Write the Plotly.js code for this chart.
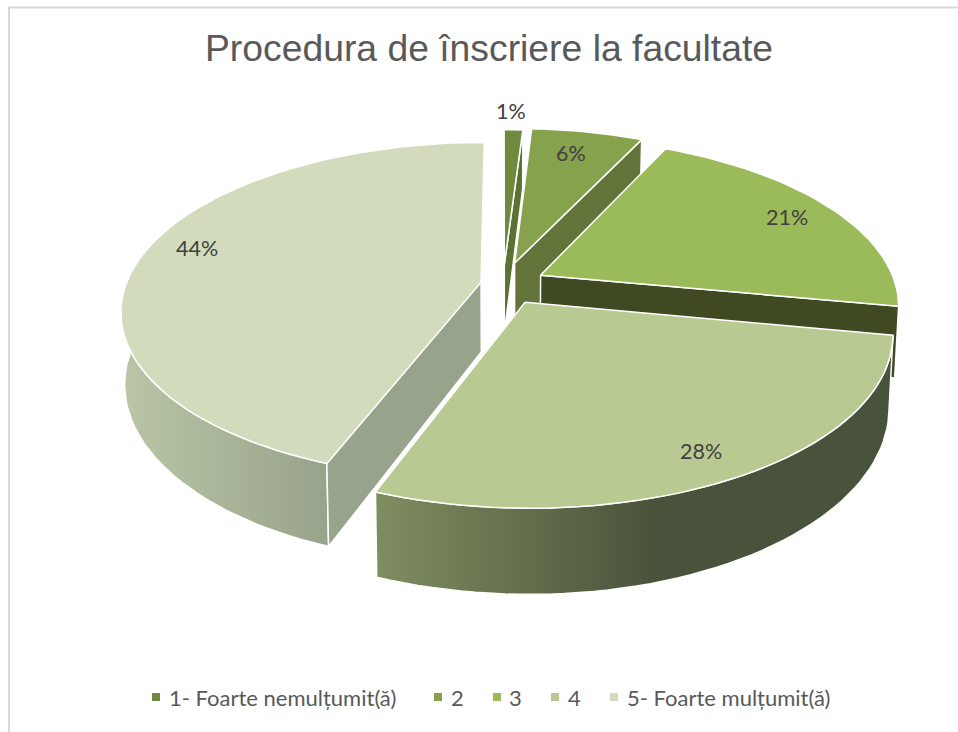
<!DOCTYPE html>
<html><head><meta charset="utf-8">
<script src="https://cdn.plot.ly/plotly-3.0.1.min.js"></script>
<style>html,body{margin:0;padding:0;background:#fff}#c{width:958px;height:732px}</style></head>
<body><div id="c"></div>
<script>
const categories = ["1- Foarte nemulțumit(ă)", "2", "3", "4", "5- Foarte mulțumit(ă)"];
const values = [1, 6, 21, 27.8, 44.2];
const labels = ["1%", "6%", "21%", "28%", "44%"];
const faceColors = ["#6f8a3e", "#87a24c", "#9bba5a", "#b8ca91", "#d2dcbc"];
const sideColors = ["#5b7232", "#62743a", "#3f4922", "#7f8c5f", "#98a38b"];
const frontLeft = ["#3f4922", "#3f4922", "#3f4922", "#808d60", "#bac6a6"];
const frontRight = ["#3f4922", "#3f4922", "#3f4922", "#49523a", "#98a38b"];
const frontStop = [1, 1, 1, 0.55, 1];
const pulls = [0.12, 0.135, 0.12, 0.125, 0.063];
const labelX = [511, 571, 787, 701, 197];
const labelY = [111, 153, 217, 451, 248];
const legendSwatchX = [156, 438, 497, 555, 614];
const legendTextX = [169, 451, 509, 568, 627];
const legendY = 697;
const drawOrder = [0, 1, 2, 4, 3];

const cx = 503, cy = 284, rx = 355, ry = 164, k = 0.17, depth = 70, shrink = 0.99;
const rad = a => a * Math.PI / 180;
function project(X, Y, bottom) {
  const s = 1 / (1 - k * Y);
  const px = X * rx * s, py = Y * ry * s;
  return bottom ? [cx + px * shrink, cy + py + depth * s] : [cx + px, cy + py];
}
function rim(a, off, bottom) { return project(Math.sin(rad(a)) + off[0], -Math.cos(rad(a)) + off[1], bottom); }
function arc(a0, a1, off, bottom) {
  const n = Math.max(2, Math.ceil(Math.abs(a1 - a0) / 2)), out = [];
  for (let i = 0; i <= n; i++) out.push(rim(a0 + (a1 - a0) * i / n, off, bottom));
  return out;
}
function poly(pts, name, extra) {
  const closed = pts.concat([pts[0]]);
  return Object.assign({
    type: "scatter", mode: "lines", x: closed.map(p => p[0]), y: closed.map(p => p[1]),
    fill: "toself", line: { color: "#ffffff", width: 1.5, shape: "linear" },
    hoverinfo: "skip", showlegend: false, name: name
  }, extra);
}

const total = values.reduce((a, b) => a + b, 0);
let acc = 0;
const slices = values.map((v, i) => {
  const a0 = acc / total * 360; acc += v; const a1 = acc / total * 360;
  const mid = rad((a0 + a1) / 2);
  return { i, a0, a1, off: [pulls[i] * Math.sin(mid), -pulls[i] * Math.cos(mid)] };
});

const traces = [];
drawOrder.forEach(idx => {
  const sl = slices[idx], i = sl.i, off = sl.off;
  const f0 = Math.max(sl.a0, 60), f1 = Math.min(sl.a1, 300);
  if (f1 > f0) {
    const pts = arc(f0, f1, off, false).concat(arc(f0, f1, off, true).reverse());
    traces.push(poly(pts, categories[i], {
      fillgradient: { type: "horizontal", colorscale: [[0, frontLeft[i]], [frontStop[i], frontRight[i]], [1, frontRight[i]]] }
    }));
  }
  const radial = [];
  if (sl.a1 < 180) radial.push(sl.a1);
  if (sl.a0 > 180) radial.push(sl.a0);
  radial.forEach(a => {
    const apexT = project(off[0], off[1], false), apexB = project(off[0], off[1], true);
    traces.push(poly([apexT, rim(a, off, false), rim(a, off, true), apexB], categories[i], { fillcolor: sideColors[i] }));
  });
  traces.push(poly([project(off[0], off[1], false)].concat(arc(sl.a0, sl.a1, off, false)), categories[i], { fillcolor: faceColors[i] }));
});
categories.forEach((c, i) => traces.push({
  type: "scatter", mode: "markers", x: [legendSwatchX[i]], y: [legendY], name: c,
  marker: { symbol: "square", size: 8, color: faceColors[i] }, hoverinfo: "skip", showlegend: false
}));

const layout = {
  width: 958, height: 732, margin: { l: 0, r: 0, t: 0, b: 0 },
  paper_bgcolor: "#fff", plot_bgcolor: "#fff",
  title: { text: "Procedura de înscriere la facultate", x: 489 / 958, xanchor: "center", y: 1 - 48 / 732, yanchor: "middle",
    font: { family: "Liberation Sans", size: 37.3, color: "#595959" } },
  xaxis: { range: [0, 958], visible: false, fixedrange: true },
  yaxis: { range: [732, 0], visible: false, fixedrange: true },
  showlegend: false,
  annotations: labels.map((t, i) => ({ x: labelX[i], y: labelY[i], xref: "x", yref: "y", text: t, showarrow: false,
    font: { family: "Lato", size: 21.5, color: "#404040" } }))
    .concat(categories.map((c, i) => ({ x: legendTextX[i], y: legendY, xref: "x", yref: "y", text: c, showarrow: false,
      xanchor: "left", xshift: -2, font: { family: "Lato", size: 22, color: "#595959" } }))),
  shapes: [
    { type: "line", xref: "paper", yref: "paper", x0: 9 / 958, x1: 9 / 958, y0: 0, y1: 1 - 7 / 732, line: { color: "#d9d9d9", width: 2 } },
    { type: "line", xref: "paper", yref: "paper", x0: 8 / 958, x1: 1, y0: 1 - 7.5 / 732, y1: 1 - 7.5 / 732, line: { color: "#d9d9d9", width: 2 } }
  ]
};
Plotly.newPlot("c", traces, layout, { displayModeBar: false });
</script></body></html>
